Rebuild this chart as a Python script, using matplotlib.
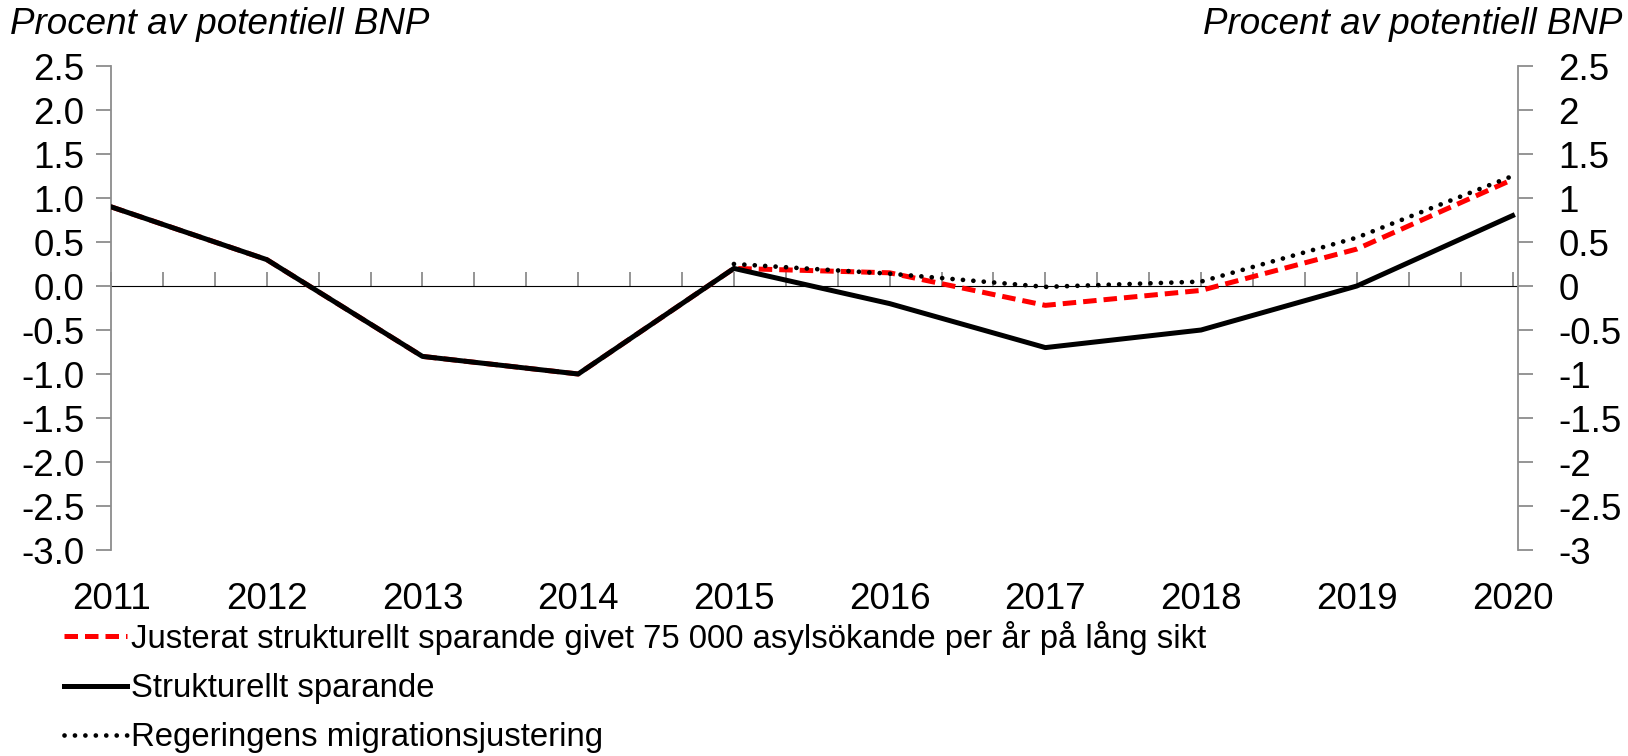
import matplotlib
matplotlib.use("Agg")
import matplotlib.pyplot as plt
import numpy as np
from matplotlib.ticker import FixedLocator, FuncFormatter, MultipleLocator, NullFormatter

plt.rcParams["font.family"] = ["Liberation Sans", "DejaVu Sans"]
plt.rcParams["axes.unicode_minus"] = False

# data
years = [2011, 2012, 2013, 2014, 2015, 2016, 2017, 2018, 2019, 2020]
strukturellt = [0.9, 0.3, -0.8, -1.0, 0.2, -0.2, -0.7, -0.5, 0.0, 0.8]
justerat = [0.9, 0.3, -0.8, -1.0, 0.2, 0.15, -0.22, -0.05, 0.42, 1.21]
migration = [np.nan, np.nan, np.nan, np.nan, 0.25, 0.14, -0.01, 0.05, 0.55, 1.25]

labels = [
    "Justerat strukturellt sparande givet 75 000 asylsökande per år på lång sikt",
    "Strukturellt sparande",
    "Regeringens migrationsjustering",
]
ylabel = "Procent av potentiell BNP"
yticks = [2.5, 2.0, 1.5, 1.0, 0.5, 0.0, -0.5, -1.0, -1.5, -2.0, -2.5, -3.0]

grey = "#8c8c8c"
fs_tick = 26.5
fs_title = 26.5
fs_leg = 23.7

fig = plt.figure(figsize=(16.28, 7.56), dpi=100)
ax = fig.add_axes([111 / 1628, 1 - 550 / 756, (1518 - 111) / 1628, (550 - 66) / 756])

l_red, = ax.plot(years, justerat, color="#ff0000", lw=3.6, linestyle=(0, (2.7, 1.4)),
                 label=labels[0], zorder=3)
l_dot, = ax.plot(years, migration, color="black", lw=3.4, linestyle=(0, (0.01, 2.2)),
                 dash_capstyle="round", label=labels[2], zorder=4)
l_blk, = ax.plot(years, strukturellt, color="black", lw=3.6, label=labels[1], zorder=5)

ax.set_xlim(2011, 2020.035)
ax.set_ylim(-3.0, 2.5)

for side in ["top", "right", "bottom"]:
    ax.spines[side].set_visible(False)
ax.spines["left"].set_color(grey)
ax.spines["left"].set_linewidth(1.3)

ax.yaxis.set_major_locator(FixedLocator(yticks))
ax.yaxis.set_major_formatter(FuncFormatter(lambda v, p: f"{v:.1f}"))
ax.tick_params(axis="y", direction="out", length=11, width=1.3, color=grey,
               labelsize=fs_tick, pad=8)

# year labels at bottom, no ticks there
ax.set_xticks(years)
ax.set_xticklabels([str(y) for y in years])
ax.tick_params(axis="x", length=0, labelsize=fs_tick, pad=23)

# zero line with tick marks
zero_frac = (0 - (-3.0)) / (2.5 - (-3.0))
sec = ax.secondary_xaxis(zero_frac)
sec.spines["bottom"].set_color(grey)
sec.spines["bottom"].set_linewidth(1.3)
sec.xaxis.set_major_locator(MultipleLocator(1 / 3))
sec.xaxis.set_major_formatter(NullFormatter())
sec.tick_params(axis="x", direction="out", length=10, width=1.3, color=grey)

# right axis
ax2 = ax.twinx()
ax2.set_ylim(ax.get_ylim())
for side in ["top", "left", "bottom"]:
    ax2.spines[side].set_visible(False)
ax2.spines["right"].set_color(grey)
ax2.spines["right"].set_linewidth(1.3)
ax2.yaxis.set_major_locator(FixedLocator(yticks))
ax2.yaxis.set_major_formatter(FuncFormatter(lambda v, p: f"{v:g}"))
ax2.tick_params(axis="y", direction="out", length=11, width=1.3, color=grey,
                labelsize=fs_tick, pad=18)

fig.text(10 / 1628, 1 - 34 / 756, ylabel, fontsize=fs_title, style="italic", ha="left",
         va="baseline")
fig.text(1622 / 1628, 1 - 34 / 756, ylabel, fontsize=fs_title, style="italic", ha="right",
         va="baseline")

fig.legend(handles=[l_red, l_blk, l_dot], loc="upper left",
           bbox_to_anchor=(64 / 1628, 1 - 621 / 756), frameon=False, fontsize=fs_leg,
           handlelength=1.9, handletextpad=0.15, labelspacing=0.55, borderpad=0,
           borderaxespad=0)

fig.savefig("out.png", dpi=100)
